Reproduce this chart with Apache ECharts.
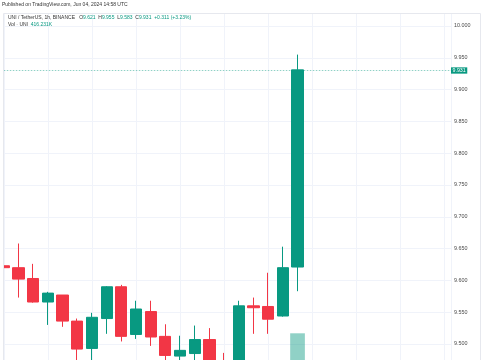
<!DOCTYPE html>
<html>
<head>
<meta charset="utf-8">
<script src="https://cdn.jsdelivr.net/npm/echarts@6/dist/echarts.min.js"></script>
<style>
html,body{margin:0;padding:0;background:#fff;}
#chart{width:485px;height:360px;}
</style>
</head>
<body>
<div id="chart"></div>
<script>
// UNI/USDT 1h candles (index 0 = leftmost, partially visible)
const candleIndex = [0,1,2,3,4,5,6,7,8,9,10,11,12,13,14,15,16,17,18,19,20];
const opens  = [9.623,9.620,9.603,9.566,9.577,9.536,9.493,9.540,9.590,9.515,9.551,9.512,9.481,9.485,9.507,9.466,9.455,9.560,9.559,9.544,9.621];
const closes = [9.620,9.602,9.566,9.580,9.536,9.492,9.542,9.590,9.512,9.555,9.511,9.482,9.490,9.507,9.466,9.455,9.560,9.557,9.539,9.620,9.931];
const lows   = [9.619,9.573,9.565,9.530,9.527,9.465,9.466,9.516,9.504,9.508,9.497,9.470,9.470,9.472,9.458,9.448,9.450,9.516,9.516,9.543,9.583];
const highs  = [9.624,9.658,9.626,9.582,9.577,9.540,9.549,9.591,9.593,9.568,9.568,9.531,9.513,9.529,9.525,9.486,9.568,9.573,9.612,9.653,9.955];
// volume in thousands (only the last bar is visible in the picture)
const volumeIndex = [20];
const volumeValues = [416.231];
const lastPrice = 9.931;
const lastVolume = 416.231;

const UP = '#089981', DOWN = '#f23645';
const FONT = 'Liberation Sans';

const candleData = candleIndex.map((x, i) => [x, opens[i], closes[i], lows[i], highs[i]]);
const volumeData = volumeIndex.map((x, i) => [x, volumeValues[i]]);

const chart = echarts.init(document.getElementById('chart'), null, {renderer: 'canvas'});
chart.setOption({
  animation: false,
  backgroundColor: '#ffffff',
  textStyle: {fontFamily: FONT},
  title: [
    {text: 'Published on TradingView.com, Jun 04, 2024 14:58 UTC', left: 2, top: 2.5, padding: 0,
     textStyle: {fontSize: 5, fontWeight: 'normal', color: '#333', fontFamily: FONT}},
    {text: '{d|UNI / TetherUS, 1h, BINANCE}   {d|O}{g|9.621}  {d|H}{g|9.955}  {d|L}{g|9.583}  {d|C}{g|9.931}  {g|+0.311 (+3.23%)}',
     left: 8, top: 15.3, padding: 0,
     textStyle: {fontSize: 5, fontWeight: 'normal', rich: {
       d: {fontSize: 5, color: '#333', fontFamily: FONT},
       g: {fontSize: 5, color: UP, fontFamily: FONT}}}},
    {text: '{d|Vol · UNI}  {g|416.231K}', left: 8, top: 22.6, padding: 0,
     textStyle: {fontSize: 5, fontWeight: 'normal', rich: {
       d: {fontSize: 5, color: '#333', fontFamily: FONT},
       g: {fontSize: 5, color: UP, fontFamily: FONT}}}}
  ],
  graphic: [
    {type: 'rect', silent: true, z: 100,
     shape: {x: 0, y: 13, width: 3.5, height: 347},
     style: {fill: '#ffffff', stroke: null}},
    {type: 'rect', silent: true, z: 101,
     shape: {x: 3.5, y: 13.5, width: 477, height: 420},
     style: {fill: null, stroke: '#e6e8ee', lineWidth: 1}}
  ],
  grid: {left: 3.8, top: 13, width: 447.2, height: 362.8, containLabel: false, outerBoundsMode: 'none'},
  xAxis: {
    type: 'value', min: 0, max: 30.45, interval: 3,
    axisLine: {show: false}, axisTick: {show: false}, axisLabel: {show: false},
    splitLine: {show: true, lineStyle: {color: '#f0f3fa', width: 1}}
  },
  yAxis: [
    {type: 'value', position: 'right', min: 9.45, max: 10.0204, interval: 0.05,
     axisLine: {show: false}, axisTick: {show: false},
     axisLabel: {show: true, margin: 3, fontSize: 5.4, color: '#4a4a4a', fontFamily: FONT,
                 showMaxLabel: false, formatter: v => v.toFixed(3)},
     splitLine: {show: true, showMaxLine: false, lineStyle: {color: '#f0f3fa', width: 1}}},
    {type: 'value', position: 'left', min: 0, max: 3553,
     axisLine: {show: false}, axisTick: {show: false}, axisLabel: {show: false}, splitLine: {show: false}}
  ],
  series: [
    {
      type: 'bar', name: 'Vol', xAxisIndex: 0, yAxisIndex: 1,
      data: volumeData, barWidth: 14.7, z: 1,
      itemStyle: {color: 'rgba(8,153,129,0.45)'},
      markLine: {
        silent: true, symbol: ['none', 'none'],
        lineStyle: {opacity: 0, width: 0},
        label: {show: true, position: 'end', distance: 1, formatter: () => lastVolume.toFixed(3) + 'K',
                color: '#fff', backgroundColor: UP, fontSize: 5.3, fontFamily: FONT,
                padding: [0.8, 1.5, 0.5, 1.5]},
        data: [{yAxis: lastVolume}]
      }
    },
    {
      type: 'candlestick', name: 'UNI', xAxisIndex: 0, yAxisIndex: 0,
      data: candleData, encode: {x: 0, y: [1, 2, 3, 4]},
      barWidth: 11.7, z: 2, clip: true,
      itemStyle: {color: UP, color0: DOWN, borderColor: UP, borderColor0: DOWN, borderWidth: 1},
      markLine: {
        silent: true, symbol: ['none', 'none'],
        lineStyle: {color: 'rgba(8,153,129,0.45)', type: [1.5, 1.5], width: 1},
        label: {show: true, position: 'end', distance: 0, formatter: () => lastPrice.toFixed(3),
                color: '#fff', backgroundColor: UP, fontSize: 5.3, fontFamily: FONT,
                padding: [0.8, 1.5, 0.5, 1.5]},
        data: [{yAxis: lastPrice}]
      }
    }
  ]
});
</script>
</body>
</html>
